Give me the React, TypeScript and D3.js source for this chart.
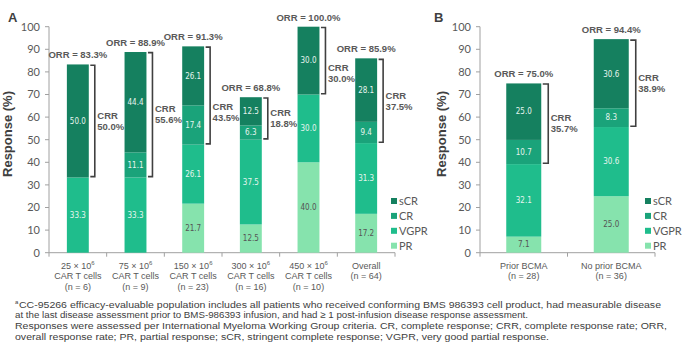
import React from "react";
import * as d3 from "d3";

const catsA = ["25", "75", "150", "300", "450", "Overall"];
const catLinesA = [
  ["25 × 10|6", "CAR T cells", "(n = 6)"],
  ["75 × 10|6", "CAR T cells", "(n = 9)"],
  ["150 × 10|6", "CAR T cells", "(n = 23)"],
  ["300 × 10|6", "CAR T cells", "(n = 16)"],
  ["450 × 10|6", "CAR T cells", "(n = 10)"],
  ["Overall", "(n = 64)"],
];
const prA = [0, 0, 21.7, 12.5, 40.0, 17.2];
const vgprA = [33.3, 33.3, 26.1, 37.5, 30.0, 31.3];
const crA = [0, 11.1, 17.4, 6.3, 0, 9.4];
const scrA = [50.0, 44.4, 26.1, 12.5, 30.0, 28.1];
const orrA = [83.3, 88.9, 91.3, 68.8, 100.0, 85.9];
const crrA = [50.0, 55.6, 43.5, 18.8, 30.0, 37.5];

const catsB = ["Prior", "NoPrior"];
const catLinesB = [
  ["Prior BCMA", "(n = 28)"],
  ["No prior BCMA", "(n = 36)"],
];
const prB = [7.1, 25.0];
const vgprB = [32.1, 30.6];
const crB = [10.7, 8.3];
const scrB = [25.0, 30.6];
const orrB = [75.0, 94.4];
const crrB = [35.7, 38.9];

const yTicks = [0, 10, 20, 30, 40, 50, 60, 70, 80, 90, 100];
const seriesKeys = ["PR", "VGPR", "CR", "sCR"];
const legendOrder = ["sCR", "CR", "VGPR", "PR"];
const colors: Record<string, string> = {
  sCR: "#15805f",
  CR: "#1aa37a",
  VGPR: "#1fbd8c",
  PR: "#86e3ad",
};
const labelColors: Record<string, string> = {
  sCR: "#e6f4ee",
  CR: "#e6f4ee",
  VGPR: "#e6f4ee",
  PR: "#555555",
};

const footLines = [
  "CC-95266 efficacy-evaluable population includes all patients who received conforming BMS 986393 cell product, had measurable disease",
  "at the last disease assessment prior to BMS-986393 infusion, and had ≥ 1 post-infusion disease response assessment.",
  "Responses were assessed per International Myeloma Working Group criteria. CR, complete response; CRR, complete response rate; ORR,",
  "overall response rate; PR, partial response; sCR, stringent complete response; VGPR, very good partial response.",
];
const footWidths = [646, 513, 652, 534];

const GRAY = "#404040";
const TICK_GRAY = "#595959";
const AXIS_GRAY = "#a0a0a0";

type PanelProps = {
  letter: string;
  cats: string[];
  catLines: string[][];
  pr: number[];
  vgpr: number[];
  cr: number[];
  scr: number[];
  orr: number[];
  crr: number[];
  x0: number;
  x1: number;
  padInner: number;
  letterX: number;
  titleX: number;
  legendX: number;
  bracketGap: number;
};

function Panel(p: PanelProps) {
  const y = d3.scaleLinear().domain([0, 100]).range([252.7, 26.7]);
  const x = d3
    .scaleBand<string>()
    .domain(p.cats)
    .range([p.x0, p.x1])
    .paddingInner(p.padInner)
    .paddingOuter(p.padInner / 2);
  const rows = p.cats.map((c, i) => ({
    cat: c,
    PR: p.pr[i],
    VGPR: p.vgpr[i],
    CR: p.cr[i],
    sCR: p.scr[i],
  }));
  const stacked = d3.stack<any>().keys(seriesKeys)(rows);
  const bw = x.bandwidth();
  const step = x.step();
  const fmt = d3.format(".1f");
  const orrCenter = (i: number) => y(p.orr[i]) - 9.5;
  return (
    <g>
      <text x={p.letterX} y={22} fontFamily="Liberation Sans, Arial" fontWeight="bold" fontSize={13} fill={GRAY}>
        {p.letter}
      </text>
      <text
        transform={`translate(${p.titleX},134) rotate(-90)`}
        textAnchor="middle"
        fontFamily="Liberation Sans, Arial"
        fontWeight="bold"
        fontSize={13}
        fill={GRAY}
      >
        Response (%)
      </text>
      {/* y axis */}
      <line x1={p.x0} x2={p.x0} y1={y(100)} y2={y(0)} stroke={AXIS_GRAY} strokeWidth={1} />
      {yTicks.map((t) => (
        <g key={t}>
          <line x1={p.x0 - 4} x2={p.x0} y1={y(t)} y2={y(t)} stroke={AXIS_GRAY} />
          <text
            x={p.x0 - 9}
            y={y(t)}
            dy="0.35em"
            textAnchor="end"
            fontFamily="Lato, Carlito, sans-serif"
            fontSize={11}
            fill={TICK_GRAY}
          >
            {t}
          </text>
        </g>
      ))}
      {/* x axis */}
      <line x1={p.x0} x2={p.x1} y1={y(0)} y2={y(0)} stroke={AXIS_GRAY} />
      {d3.range(p.cats.length + 1).map((i) => (
        <line key={i} x1={p.x0 + i * step} x2={p.x0 + i * step} y1={y(0)} y2={y(0) + 4} stroke={AXIS_GRAY} />
      ))}
      {/* bars */}
      {stacked.map((s) => (
        <g key={s.key}>
          {s.map((d, i) => {
            const v = d[1] - d[0];
            if (v <= 0) return null;
            const cx = (x(p.cats[i]) as number) + bw / 2;
            return (
              <g key={i}>
                <rect
                  x={x(p.cats[i])}
                  y={y(d[1])}
                  width={bw}
                  height={y(d[0]) - y(d[1])}
                  fill={colors[s.key]}
                />
                <text
                  x={cx}
                  y={(y(d[0]) + y(d[1])) / 2}
                  dy="0.35em"
                  textAnchor="middle"
                  fontFamily="DejaVu Sans Condensed, DejaVu Sans"
                  fontSize={8}
                  fill={labelColors[s.key]}
                >
                  {fmt(v)}
                </text>
              </g>
            );
          })}
        </g>
      ))}
      {/* ORR labels and CRR brackets */}
      {p.cats.map((c, i) => {
        const left = x(c) as number;
        const cx = left + bw / 2;
        const top = y(p.orr[i]);
        const bot = y(p.pr[i] + p.vgpr[i]);
        const bx = left + bw + p.bracketGap;
        let first = (top + bot) / 2 - 5.5;
        // avoid the neighbouring ORR label
        if (i + 1 < p.cats.length) {
          const ncx = (x(p.cats[i + 1]) as number) + bw / 2;
          if (bx + 30 > ncx - 30) {
            first = Math.max(first, orrCenter(i + 1) + 19);
          }
        }
        return (
          <g key={c}>
            <text
              x={cx}
              y={orrCenter(i)}
              dy="0.35em"
              textAnchor="middle"
              fontFamily="Liberation Sans, Arial"
              fontWeight="bold"
              fontSize={9.5}
              fill={TICK_GRAY}
            >
              {`ORR = ${fmt(p.orr[i])}%`}
            </text>
            <path
              d={`M${left + bw + 1.5},${top + 0.8}H${bx}V${bot - 0.8}H${left + bw + 1.5}`}
              fill="none"
              stroke={GRAY}
              strokeWidth={1.6}
            />
            <text
              x={bx + 2.5}
              y={first}
              dy="0.35em"
              fontFamily="Liberation Sans, Arial"
              fontWeight="bold"
              fontSize={9.5}
              fill={TICK_GRAY}
            >
              CRR
            </text>
            <text
              x={bx + 2.5}
              y={first + 11}
              dy="0.35em"
              fontFamily="Liberation Sans, Arial"
              fontWeight="bold"
              fontSize={9.5}
              fill={TICK_GRAY}
            >
              {`${fmt(p.crr[i])}%`}
            </text>
          </g>
        );
      })}
      {/* x labels */}
      {p.catLines.map((lines, i) => {
        const cx = (x(p.cats[i]) as number) + bw / 2;
        return (
          <text
            key={i}
            textAnchor="middle"
            fontFamily="Liberation Sans, Arial"
            fontSize={9}
            fill={TICK_GRAY}
          >
            {lines.map((ln, j) => {
              const parts = ln.split("|");
              return (
                <tspan key={j} x={cx} y={268.5 + j * 10.6}>
                  {parts[0]}
                  {parts.length > 1 ? (
                    <tspan fontSize={6} dy={-3.5}>
                      {parts[1]}
                    </tspan>
                  ) : null}
                </tspan>
              );
            })}
          </text>
        );
      })}
      {/* legend */}
      {legendOrder.map((k, i) => (
        <g key={k} transform={`translate(${p.legendX},${201 + i * 14.9})`}>
          <rect x={0} y={-3} width={6} height={6} fill={colors[k]} />
          <text x={8} y={0} dy="0.35em" fontFamily="Lato, Carlito, sans-serif" fontSize={11} fill={TICK_GRAY}>
            {k}
          </text>
        </g>
      ))}
    </g>
  );
}

export default function App() {
  return (
    <svg width={692} height={361} style={{ position: "absolute", left: 0, top: 0, background: "#fff" }}>
      <rect width={692} height={361} fill="#fff" />
      <Panel
        letter="A"
        cats={catsA}
        catLines={catLinesA}
        pr={prA}
        vgpr={vgprA}
        cr={crA}
        scr={scrA}
        orr={orrA}
        crr={crrA}
        x0={49}
        x1={395}
        padInner={0.62}
        letterX={8}
        titleX={12}
        legendX={391}
        bracketGap={6}
      />
      <Panel
        letter="B"
        cats={catsB}
        catLines={catLinesB}
        pr={prB}
        vgpr={vgprB}
        cr={crB}
        scr={scrB}
        orr={orrB}
        crr={crrB}
        x0={480}
        x1={655}
        padInner={0.6}
        letterX={434}
        titleX={446}
        legendX={645}
        bracketGap={7}
      />
      {footLines.map((ln, i) => (
        <text
          key={i}
          x={i === 0 ? 19 : 15}
          y={307.5 + i * 10.8}
          fontFamily="Liberation Sans, Arial"
          fontSize={9.6}
          fill={GRAY}
          textLength={footWidths[i] - (i === 0 ? 4 : 0)}
          lengthAdjust="spacingAndGlyphs"
        >
          {ln}
        </text>
      ))}
      <text x={15} y={304} fontFamily="Liberation Sans, Arial" fontSize={6} fill={GRAY}>
        a
      </text>
    </svg>
  );
}
